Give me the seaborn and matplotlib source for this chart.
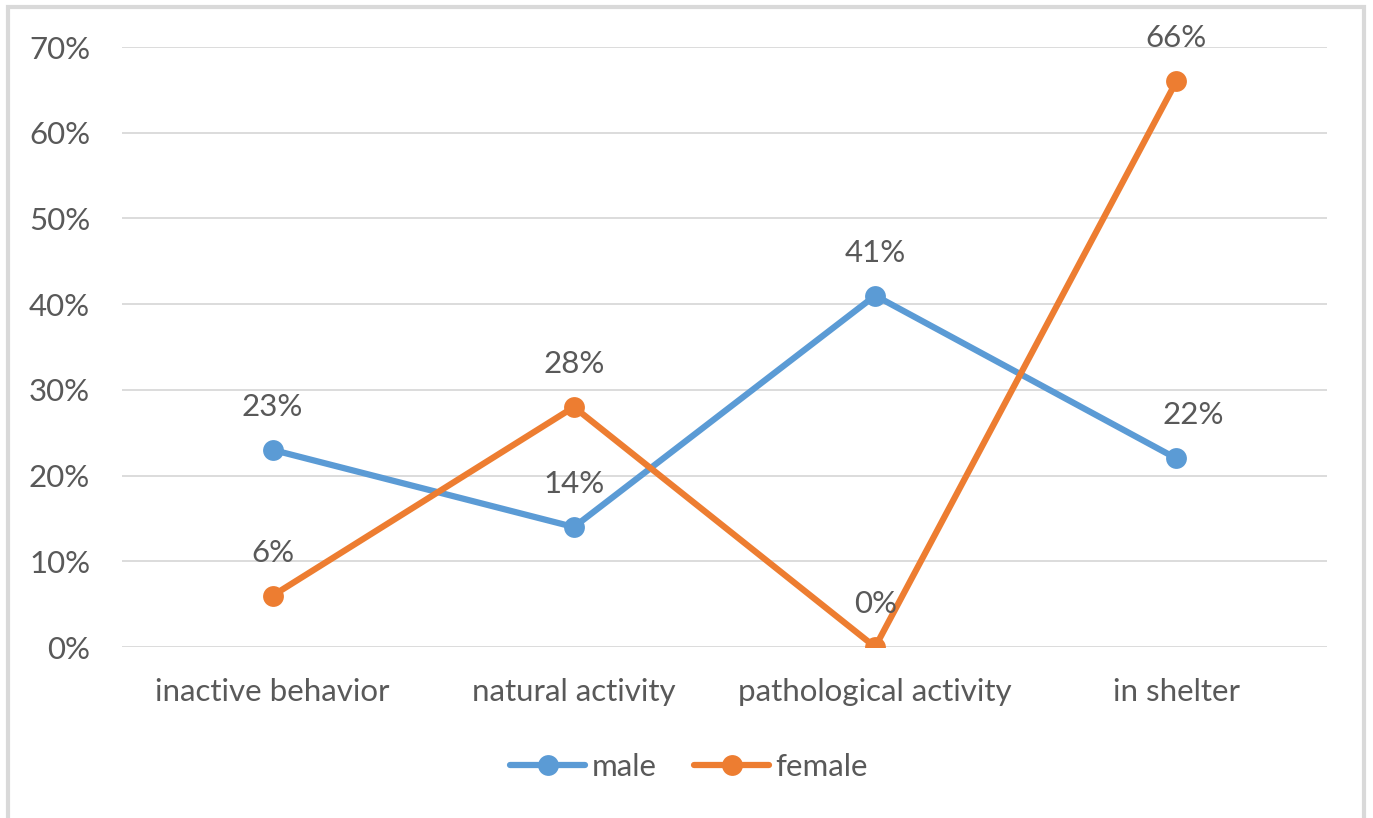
import matplotlib
matplotlib.use("Agg")
import matplotlib.pyplot as plt
import seaborn as sns
import pandas as pd
from matplotlib.ticker import FuncFormatter, MultipleLocator

categories = ["inactive behavior", "natural activity", "pathological activity", "in shelter"]
male = [23, 14, 41, 22]
female = [6, 28, 0, 66]
series_names = ["male", "female"]
colors = {"male": "#5B9BD5", "female": "#ED7D31"}

df = pd.DataFrame({
    "category": categories * 2,
    "x": list(range(len(categories))) * 2,
    "value": male + female,
    "series": ["male"] * len(categories) + ["female"] * len(categories),
})

sns.set_theme(style="white")
plt.rcParams["font.family"] = ["Lato", "DejaVu Sans"]
text_color = "#595959"
fs = 22.5

fig = plt.figure(figsize=(13.73, 8.18), dpi=100)
ax = fig.add_axes([0.0889, 0.2090, 0.9665 - 0.0889, 0.9425 - 0.2090])

sns.lineplot(data=df, x="x", y="value", hue="series", hue_order=series_names,
             palette=colors, marker="o", markersize=15, markeredgewidth=0,
             linewidth=4.5, ax=ax, legend=True, zorder=3)

ax.set_xlim(-0.5, len(categories) - 0.5)
ax.set_ylim(0, 70)
ax.yaxis.set_major_locator(MultipleLocator(10))
ax.yaxis.set_major_formatter(FuncFormatter(lambda v, p: f"{int(round(v))}%"))
ax.set_xticks(range(len(categories)))
ax.set_xticklabels(categories)
ax.set_xlabel("")
ax.set_ylabel("")
ax.tick_params(axis="both", length=0, labelsize=fs, colors=text_color)
ax.tick_params(axis="x", pad=22)
ax.tick_params(axis="y", pad=23)
ax.grid(axis="y", color="#D9D9D9", linewidth=1.3, zorder=0)
ax.set_axisbelow(True)
for s in ax.spines.values():
    s.set_visible(False)

for name, vals in (("male", male), ("female", female)):
    for i, v in enumerate(vals):
        dx = 12 if (name == "male" and i == 3) else 0
        ax.annotate(f"{v}%", (i, v), xytext=(dx, 31), textcoords="offset points",
                    ha="center", va="center", fontsize=fs, color=text_color, zorder=5)

ax.get_legend().remove()
handles, labels = ax.get_legend_handles_labels()
fig.legend(handles[:2], labels[:2], loc="center", bbox_to_anchor=(0.502, 0.062),
           ncol=2, frameon=False, fontsize=fs, labelcolor=text_color,
           handlelength=2.4, columnspacing=1.2, handletextpad=0.2)

# outer chart border
border = plt.Rectangle((0.0055, -0.01), 0.988, 1.002, transform=fig.transFigure,
                       fill=False, edgecolor="#D9D9D9", linewidth=3, zorder=0)
fig.patches.append(border)

fig.savefig("out.png", dpi=100)
